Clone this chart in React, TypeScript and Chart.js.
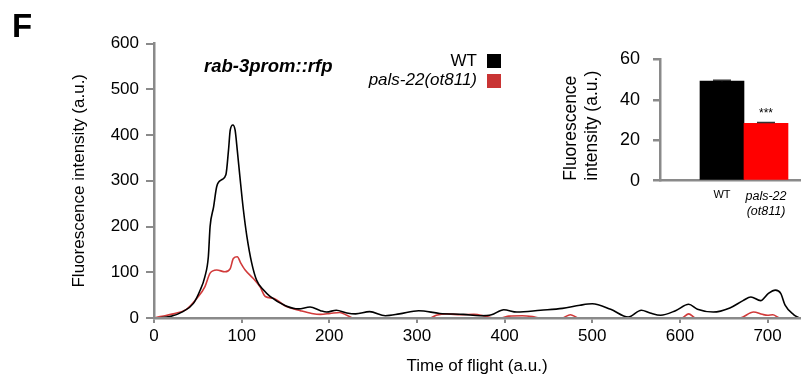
import React, { useEffect, useRef } from 'react';
import { Chart, registerables } from 'chart.js';

Chart.register(...registerables);

const FONT = "'Liberation Sans', Arial, Helvetica, sans-serif";
const AXIS = '#8a8a8a';

// ---- main chart data ----
const panelLetter = 'F';
const chartTitle = 'rab-3prom::rfp';
const xTitle = 'Time of flight (a.u.)';
const yTitle = 'Fluorescence intensity (a.u.)';
const seriesNames = ['WT', 'pals-22(ot811)'];
const seriesLineColors = ['#000000', '#d13a3a'];
const seriesLegendColors = ['#000000', '#c93434'];
const xTicks = [0, 100, 200, 300, 400, 500, 600, 700];
const yTicks = [0, 100, 200, 300, 400, 500, 600];

const wtX = [5, 18, 33, 45, 52, 58, 62, 64, 68, 71.5, 77, 82, 85, 87, 90, 92.5, 95, 98, 102, 106, 111.5, 117, 125, 132, 150, 165, 178, 190, 197, 208, 220, 230, 246, 264, 280, 302, 326, 353, 372, 385, 399, 414, 441, 466, 486, 500, 521, 541, 556, 566, 578, 595, 610, 620, 638, 657, 672, 681, 692, 701, 709, 715, 720, 730, 736];
const wtY = [0, 3, 14, 32, 58, 90, 134, 200, 243, 287, 302, 313, 367, 411, 422, 411, 367, 309, 236, 178, 120, 83, 61, 48, 27, 20, 24, 16, 13, 17, 11, 9, 14, 5, 9, 16, 10, 8, 5, 7, 18, 13, 17, 21, 28, 31, 19, 2, 17, 11, 6, 16, 30, 19, 13, 22, 38, 46, 38, 54, 61, 54, 28, 7, 0];

const mutX = [0, 7, 22, 37, 49, 58, 64, 71.5, 81, 87, 90.5, 95, 99, 104, 113, 121, 127, 136, 151, 167, 180, 190, 201, 212, 220, 228, 315, 322, 335, 350, 365, 378, 388, 395, 405, 420, 432, 440, 465, 475, 485, 602, 610, 618, 668, 684, 694, 700, 706, 714, 736];
const mutY = [0, 3, 9, 19, 43, 68, 98, 105, 101, 108, 130, 134, 120, 105, 87, 68, 47, 43, 25, 16, 10, 8, 10, 12, 6, 0, 0, 6, 9, 7, 8, 4, 0, 0, 4, 5, 3, 0, 0, 7, 0, 0, 9, 0, 0, 13, 8, 6, 7, 0, 0];

// ---- inset data ----
const insetCategories: (string | string[])[] = ['WT', ['pals-22', '(ot811)']];
const insetValues = [49.2, 28.4];
const insetErrors = [0.5, 0.4];
const insetColors = ['#000000', '#ff0000'];
const insetSignificance = ['', '***'];
const insetTicks = [0, 20, 40, 60];
const insetYTitle = ['Fluorescence', 'intensity (a.u.)'];

const annotationsPlugin = {
  id: 'annotations',
  afterDraw(chart: any) {
    const ctx = chart.ctx;
    ctx.save();
    ctx.fillStyle = '#000';
    ctx.textBaseline = 'alphabetic';
    ctx.textAlign = 'left';
    ctx.font = `bold 33px ${FONT}`;
    ctx.fillText(panelLetter, 12, 36.5);
    ctx.font = `italic bold 18.5px ${FONT}`;
    ctx.fillText(chartTitle, 204, 71.5);
    // legend
    const baselines = [66, 85.3];
    const boxTops = [54, 74];
    seriesNames.forEach((name, i) => {
      ctx.font = `${i === 1 ? 'italic ' : ''}17px ${FONT}`;
      ctx.textAlign = 'right';
      ctx.fillStyle = '#000';
      ctx.fillText(name, 477, baselines[i]);
      ctx.fillStyle = seriesLegendColors[i];
      ctx.fillRect(487, boxTops[i], 14, 14);
    });
    ctx.restore();
  },
};

const errorBarPlugin = {
  id: 'errorBars',
  afterDatasetsDraw(chart: any) {
    const ctx = chart.ctx;
    const meta = chart.getDatasetMeta(0);
    const yScale = chart.scales.y;
    ctx.save();
    meta.data.forEach((el: any, i: number) => {
      const top = yScale.getPixelForValue(insetValues[i] + insetErrors[i]);
      ctx.strokeStyle = '#333';
      ctx.lineWidth = 1.5;
      ctx.beginPath();
      ctx.moveTo(el.x, el.y);
      ctx.lineTo(el.x, top);
      ctx.moveTo(el.x - 9, top);
      ctx.lineTo(el.x + 9, top);
      ctx.stroke();
      if (insetSignificance[i]) {
        ctx.fillStyle = '#000';
        ctx.font = `12px ${FONT}`;
        ctx.textAlign = 'center';
        ctx.textBaseline = 'alphabetic';
        ctx.fillText(insetSignificance[i], el.x, top - 5);
      }
    });
    ctx.restore();
  },
};

export default function App() {
  const mainRef = useRef<HTMLCanvasElement>(null);
  const insetRef = useRef<HTMLCanvasElement>(null);

  useEffect(() => {
    document.body.style.margin = '0';
    const tickFont = { family: FONT, size: 17 };

    const main = new Chart(mainRef.current!, {
      type: 'line',
      data: {
        datasets: [
          {
            label: seriesNames[0],
            data: wtX.map((x, i) => ({ x, y: wtY[i] })),
            borderColor: seriesLineColors[0],
            borderWidth: 1.6,
            pointRadius: 0,
            cubicInterpolationMode: 'monotone',
            fill: false,
          },
          {
            label: seriesNames[1],
            data: mutX.map((x, i) => ({ x, y: mutY[i] })),
            borderColor: seriesLineColors[1],
            borderWidth: 1.6,
            pointRadius: 0,
            cubicInterpolationMode: 'monotone',
            fill: false,
          },
        ],
      },
      options: {
        responsive: false,
        animation: false,
        layout: { padding: { left: 64.8, top: 43.5, right: 7, bottom: 0 } },
        plugins: { legend: { display: false }, tooltip: { enabled: false } },
        scales: {
          x: {
            type: 'linear',
            min: 0,
            max: 737,
            afterBuildTicks: (s: any) => {
              s.ticks = xTicks.map((v) => ({ value: v }));
            },
            afterFit: (s: any) => {
              s.height = 63;
            },
            grid: { drawOnChartArea: false, drawTicks: true, tickLength: 5, color: AXIS, lineWidth: 2, z: 1 },
            border: { display: true, color: AXIS, width: 2.5, z: 1 },
            ticks: { color: '#000', font: tickFont, padding: 3, maxRotation: 0, autoSkip: false },
            title: { display: true, text: xTitle, color: '#000', font: tickFont, padding: { top: 0, bottom: 4 } },
          },
          y: {
            min: 0,
            max: 600,
            afterBuildTicks: (s: any) => {
              s.ticks = yTicks.map((v) => ({ value: v }));
            },
            afterFit: (s: any) => {
              s.width = 89.2;
            },
            grid: { drawOnChartArea: false, drawTicks: true, tickLength: 8, color: AXIS, lineWidth: 2, z: 1 },
            border: { display: true, color: AXIS, width: 2.5, z: 1 },
            ticks: { color: '#000', font: tickFont, padding: 7 },
            title: { display: true, text: yTitle, color: '#000', font: tickFont, padding: { top: 4, bottom: 4 } },
          },
        },
      } as any,
      plugins: [annotationsPlugin],
    });

    const inset = new Chart(insetRef.current!, {
      type: 'bar',
      data: {
        datasets: [
          {
            data: insetValues.map((v, i) => ({ x: i + 1, y: v })),
            backgroundColor: insetColors,
            borderWidth: 0,
            barPercentage: 1,
            categoryPercentage: 1,
          },
        ],
      },
      options: {
        responsive: false,
        animation: false,
        layout: { padding: { left: 16.8, top: 29.3, right: 7, bottom: 0 } },
        plugins: { legend: { display: false }, tooltip: { enabled: false } },
        scales: {
          x: {
            type: 'linear',
            offset: false,
            min: -0.393,
            max: 2.773,
            afterBuildTicks: (s: any) => {
              s.ticks = insetCategories.map((_, i) => ({ value: i + 1 }));
            },
            afterFit: (s: any) => {
              s.height = 49.3;
            },
            grid: { display: false, offset: false },
            border: { display: true, color: AXIS, width: 2.5 },
            ticks: {
              color: '#000',
              padding: 0,
              maxRotation: 0,
              autoSkip: false,
              font: (c: any) => ({
                family: FONT,
                size: c.index === 0 ? 11 : 12.5,
                style: c.index === 1 ? 'italic' : 'normal',
              }),
              callback: (_v: any, i: number) => insetCategories[i],
            },
          },
          y: {
            min: 0,
            max: 60,
            afterBuildTicks: (s: any) => {
              s.ticks = insetTicks.map((v) => ({ value: v }));
            },
            afterFit: (s: any) => {
              s.width = 103.9;
            },
            grid: { drawOnChartArea: false, drawTicks: true, tickLength: 7.7, color: AXIS, lineWidth: 2.5 },
            border: { display: true, color: AXIS, width: 2.5 },
            ticks: { color: '#000', font: { family: FONT, size: 18 }, padding: 13 },
            title: {
              display: true,
              text: insetYTitle,
              align: 'start',
              color: '#000',
              font: { family: FONT, size: 17.5 },
              padding: { top: 4, bottom: 4 },
            },
          },
        },
      } as any,
      plugins: [errorBarPlugin],
    });

    return () => {
      main.destroy();
      inset.destroy();
    };
  }, []);

  return (
    <div style={{ position: 'relative', width: 807, height: 381, background: '#fff' }}>
      <canvas ref={mainRef} width={807} height={381} style={{ position: 'absolute', left: 0, top: 0, display: 'block' }} />
      <canvas ref={insetRef} width={267} height={200} style={{ position: 'absolute', left: 540, top: 30, display: 'block' }} />
    </div>
  );
}
